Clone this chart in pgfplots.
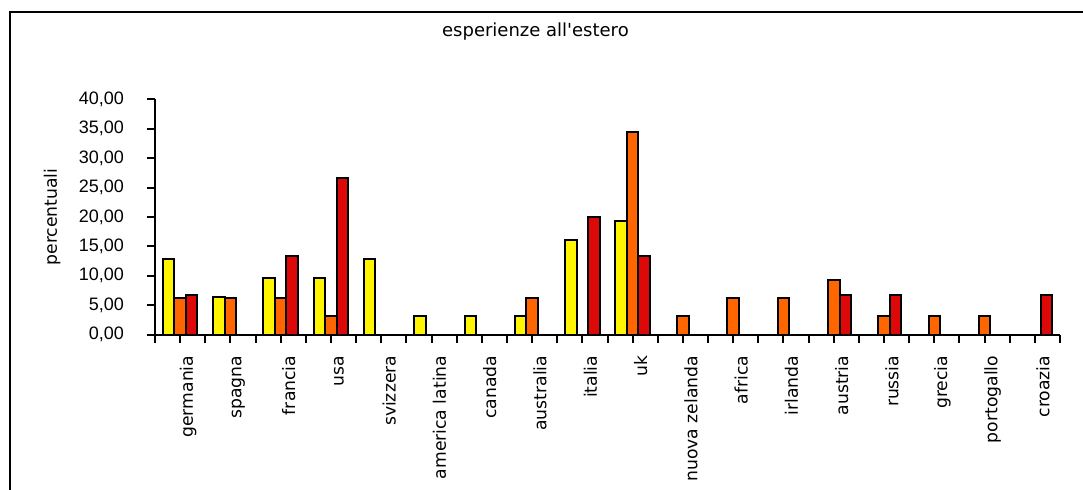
\documentclass[border=0pt]{standalone}
\usepackage{pgfplots}
\pgfplotsset{compat=1.18}
\usepackage{fontspec}
\setmainfont{DejaVu Sans}
\newfontfamily\titlefont{DejaVu Sans}[Ligatures=TeXOff]
\newfontfamily\numfont{Liberation Sans}
\definecolor{cy}{HTML}{FFF500}
\definecolor{co}{HTML}{FF6600}
\definecolor{cr}{HTML}{DD0808}
\begin{document}
\begin{tikzpicture}
\useasboundingbox (0,0) rectangle (541.5pt,244.5pt);
\draw[line width=1.3pt] (5pt,-20pt) -- (5pt,238.5pt) -- (560pt,238.5pt);
\begin{axis}[
  at={(77.5pt,77.15pt)}, anchor=south west,
  scale only axis, width=452.5pt, height=117.7pt,
  xmin=-0.5, xmax=17.5, ymin=0, ymax=40,
  axis lines=left,
  axis line style={-, line width=1pt},
  tick style={black, line width=1pt},
  major tick length=4pt,
  tick align=outside,
  ybar=0pt, bar width=5.75pt,
  xtick={0,...,17},
  xticklabels={germania,spagna,francia,usa,svizzera,america latina,canada,australia,italia,uk,nuova zelanda,africa,irlanda,austria,russia,grecia,portogallo,croazia},
  xticklabel style={xshift=4pt, yshift=-3pt, rotate=90, anchor=east, font=\fontsize{8.6pt}{9pt}\selectfont},
  extra x ticks={-0.5,0.5,...,17.5},
  extra x tick labels={},
  ytick={0,5,...,40},
  /pgf/number format/.cd, fixed, fixed zerofill, precision=2, use comma, assume math mode=true,
  /pgfplots/.cd,
  yticklabel style={font=\numfont\fontsize{9pt}{10pt}\selectfont, xshift=-8pt},
  ylabel={percentuali},
  ylabel style={at={(axis description cs:-0.1138,0.5)}, rotate=0, anchor=center, font=\fontsize{8.6pt}{10pt}\selectfont},
  title={esperienze all'estero},
  title style={at={(axis description cs:0.4204,1.239)}, anchor=center, font=\titlefont\fontsize{9pt}{10pt}\selectfont},
  clip=false,
]
\addplot[fill=cy, draw=black, line width=1pt] coordinates {(0,12.90) (1,6.45) (2,9.68) (3,9.68) (4,12.90) (5,3.23) (6,3.23) (7,3.23) (8,16.13) (9,19.35)};
\addplot[fill=co, draw=black, line width=1pt] coordinates {(0,6.25) (1,6.25) (2,6.25) (3,3.125) (7,6.25) (9,34.375) (10,3.125) (11,6.25) (12,6.25) (13,9.375) (14,3.125) (15,3.125) (16,3.125)};
\addplot[fill=cr, draw=black, line width=1pt] coordinates {(0,6.67) (2,13.33) (3,26.67) (8,20.00) (9,13.33) (13,6.67) (14,6.67) (17,6.67)};
\end{axis}
\end{tikzpicture}
\end{document}
